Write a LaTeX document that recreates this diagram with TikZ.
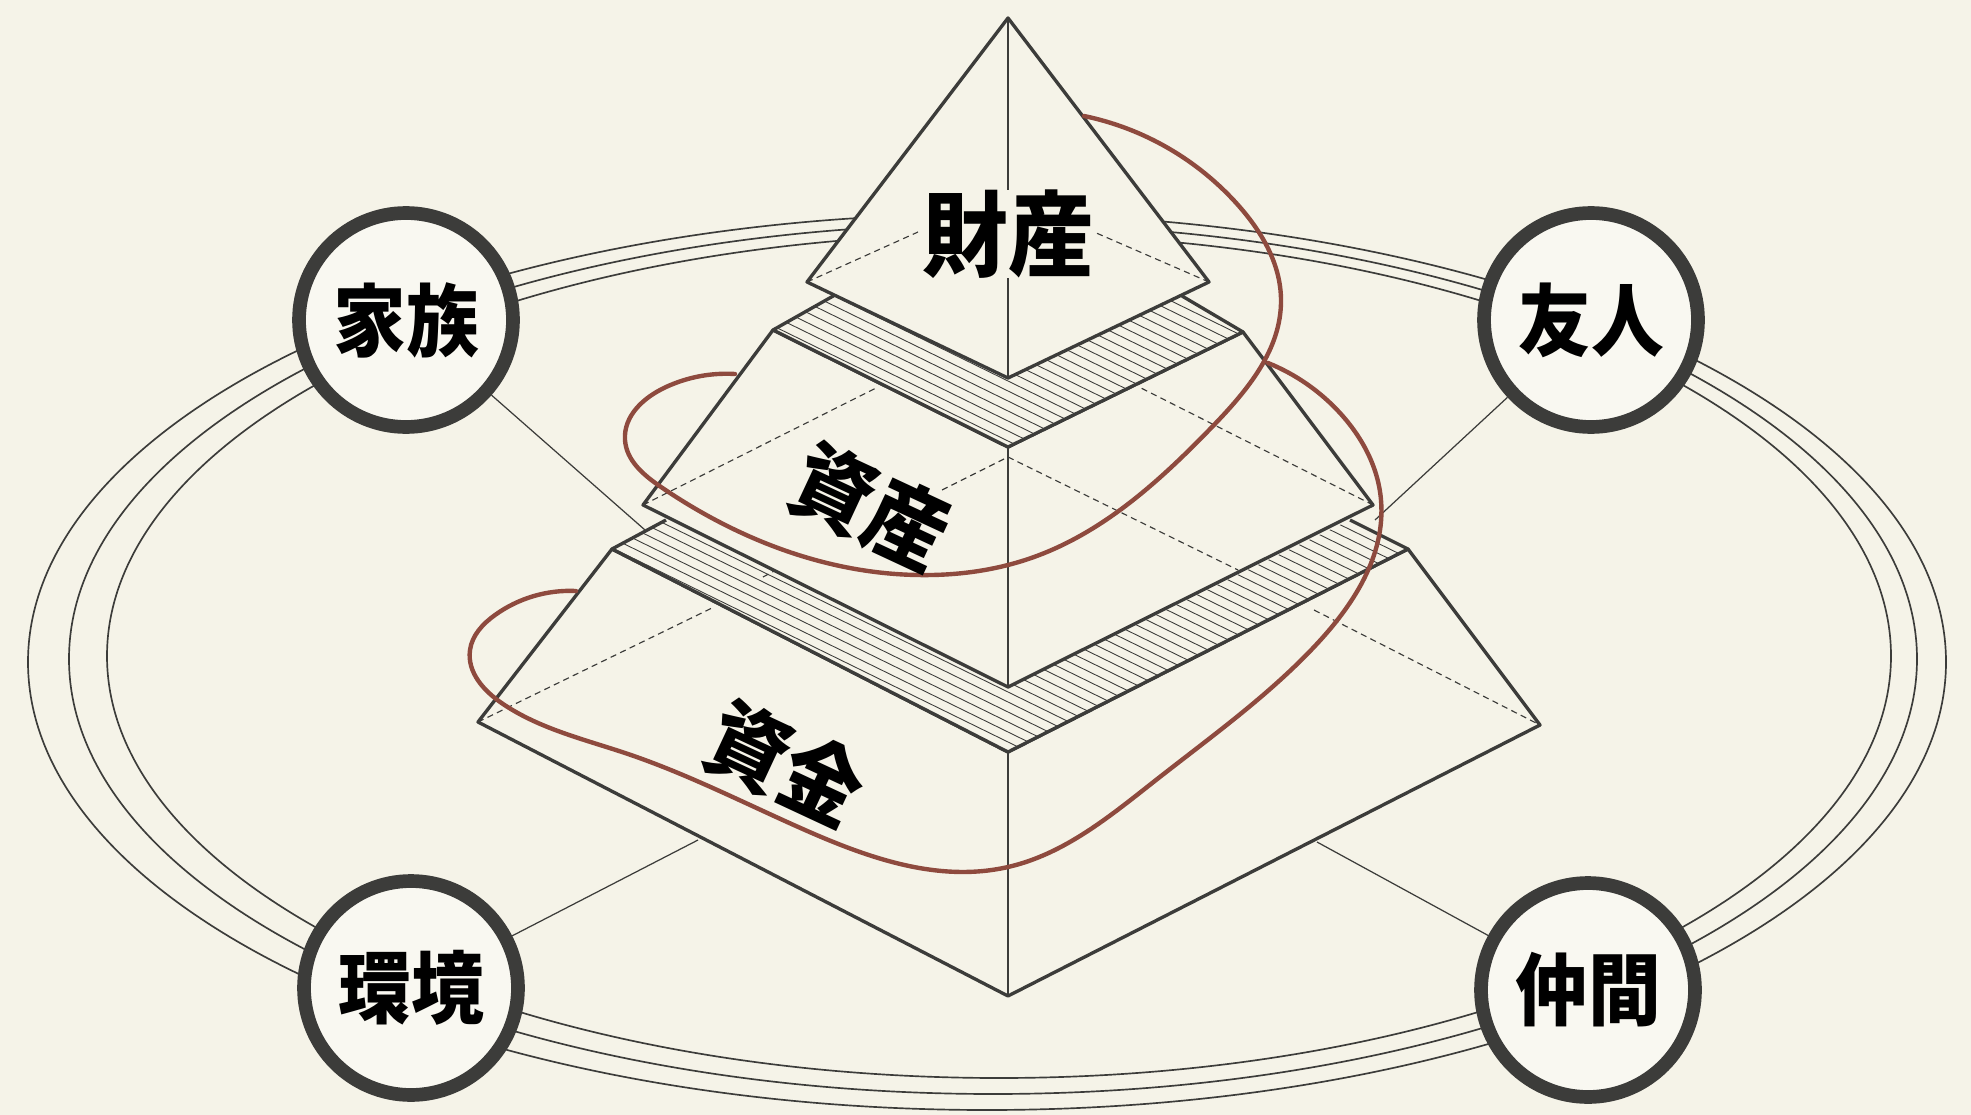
\documentclass[tikz,border=0pt]{standalone}
\usepackage{fontspec}
\newfontfamily\jpfont[FakeStretch=0.92]{Noto Sans CJK JP}
\usetikzlibrary{calc, positioning, hobby}

\definecolor{paper}{HTML}{F5F3E8}
\definecolor{ink}{HTML}{3C3C3A}
\definecolor{rust}{HTML}{8E4A3E}

\tikzset{
	orbit/.style={draw=ink, line width=0.95pt},
	person/.style={circle, draw=ink, fill=paper!60!white, line width=7.8pt, minimum size=4.28cm, inner sep=0pt, text=black, font=\jpfont\bfseries\fontsize{45}{45}\selectfont},
	tier/.style={draw=ink, fill=paper, line width=1.9pt, line join=round},
	hatch/.style={draw=ink, line width=0.5pt},
	hidden/.style={draw=ink, line width=0.65pt, dashed, dash pattern=on 3.5pt off 2.5pt},
	spine/.style={draw=ink, line width=1.2pt},
	link/.style={draw=ink, line width=0.7pt},
	spiral/.style={draw=rust, line width=2.5pt, line cap=round, use Hobby shortcut},
	tiername/.style={inner sep=0pt, text=black, font=\jpfont\bfseries\fontsize{50}{50}\selectfont}
}

\begin{document}
\begin{tikzpicture}[x=0.02cm, y=-0.02cm]
		
		\fill [paper] (0,0) rectangle (1971,1115);
		\useasboundingbox (0,0) rectangle (1971,1115);
		
		%//three rings behind everything
		\draw [orbit] (987,662) ellipse [x radius=959, y radius=448];
		\draw [orbit] (993,659) ellipse [x radius=924, y radius=435];
		\draw [orbit] (999,656) ellipse [x radius=892, y radius=422];
		
		\node [person] (family) at (406,320) {家族};
		\node [person] (friend) at (1591,320) {友人};
		\node [person] (milieu) at (411,988) {環境};
		\node [person] (fellow) at (1588,990) {仲間};
		
		\coordinate (familyend) at (645,530);
		\coordinate (friendend) at (1375,520);
		\coordinate (milieuend) at (698,840);
		\coordinate (fellowend) at (1317,842);
		
		\draw [link] (family) -- (familyend);
		\draw [link] (friend) -- (friendend);
		\draw [link] (milieu) -- (milieuend);
		\draw [link] (fellow) -- (fellowend);
		
		%//lower tier
		\draw [tier] (612,549) -- (478,722) -- (1008,996) -- (1540,725) -- (1408,549) -- (1008,752) -- cycle;
		\draw [spine] (1008,752) -- (1008,996);
		\draw [hidden] (478,722) -- (712,608);
		\draw [hidden] (1314,610) -- (1540,725);
		
		%//lower band
		\fill [paper] (666,520) -- (1008,687) -- (1350,520) -- (1408,549) -- (1008,752) -- (612,549) -- cycle;
		\begin{scope}
		\clip (666,520) -- (1008,687) -- (1350,520) -- (1408,549) -- (1008,752) -- (612,549) -- cycle;
		\foreach \c in {352,362,...,752}
		\draw [hatch] (500, \c-0.49*508) -- (1500, \c+0.49*492);
		\end{scope}
		\draw [tier, fill=none] (666,520) -- (612,549) -- (1008,752) -- (1408,549) -- (1350,520);
		\draw [hidden] (763,577) -- (789,563);
		
		%//middle tier
		\draw [tier] (773,330) -- (643,505) -- (1008,687) -- (1373,505) -- (1243,332) -- (1008,447) -- cycle;
		\draw [spine] (1008,447) -- (1008,687);
		\draw [hidden] (643,505) -- (878,387);
		\draw [hidden] (1373,505) -- (1141,388);
		\draw [hidden] (942,490) -- (1008,457) -- (1238,570);
		
		%//upper band
		\fill [paper] (835,295) -- (1008,378) -- (1182,296) -- (1243,332) -- (1008,447) -- (773,330) -- cycle;
		\begin{scope}
		\clip (835,295) -- (1008,378) -- (1182,296) -- (1243,332) -- (1008,447) -- (773,330) -- cycle;
		\foreach \c in {211,221,...,447}
		\draw [hatch] (700, \c-0.49*308) -- (1300, \c+0.49*292);
		\end{scope}
		\draw [tier, fill=none] (835,295) -- (773,330) -- (1008,447) -- (1243,332) -- (1182,296);
		
		%//top tier
		\draw [tier] (1008,18) -- (807,282) -- (1008,378) -- (1209,282) -- cycle;
		\draw [spine] (1008,18) -- (1008,378);
		\draw [hidden] (807,282) -- (918,232);
		\draw [hidden] (1209,282) -- (1094,232);
		
		\node [tiername, fill=paper, font=\jpfont\bfseries\fontsize{53}{53}\selectfont] (wealth) at (1008,234) {財産};
		
		%//spiral, two runs
		\draw [spiral] (1084,116) .. (1238,205) .. (1281,300) .. (1212,427) .. (1034,557) .. (932,575) .. (661,487) .. (625,440) .. (666,387) .. (735,374);
		\draw [spiral] (1268,363) .. (1340,413) .. (1381,500) .. (1314,647) .. (1156,780) .. (1008,867) .. (805,830) .. (628,754) .. (503,704) .. (470,650) .. (495,615) .. (576,591);
		
		\node [tiername, rotate=-25] (assets) at (871,507) {資産};
		\node [tiername, rotate=-25] (funds) at (786,764) {資金};
		
		\end{tikzpicture}
\end{document}
